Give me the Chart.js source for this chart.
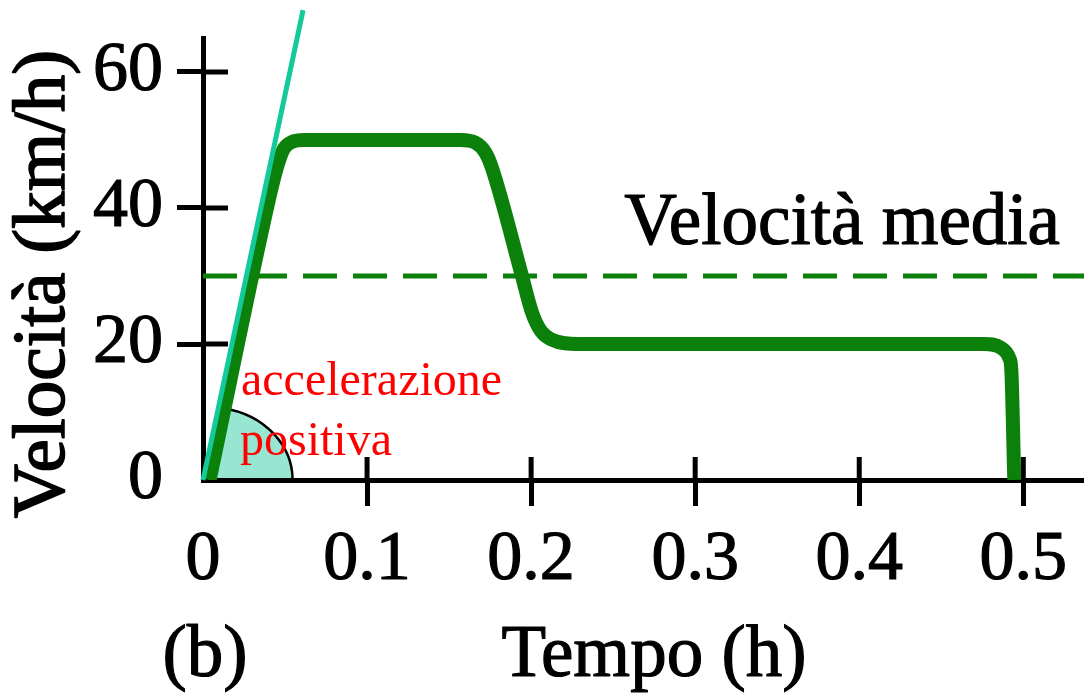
<!DOCTYPE html>
<html>
<head>
<meta charset="utf-8">
<script src="https://cdn.jsdelivr.net/npm/chart.js@4.4.1/dist/chart.umd.min.js"></script>
<style>
  html, body { margin: 0; padding: 0; background: #ffffff; }
  #wrap { position: relative; width: 1084px; height: 693px; }
</style>
</head>
<body>
<div id="wrap"><canvas id="speedChart"></canvas></div>
<script>
// Velocity profile of the trip: time (h) against speed (km/h)
var timeH    = [0.004, 0.039, 0.0445, 0.049, 0.054, 0.062, 0.157, 0.166, 0.172, 0.176, 0.194, 0.2006, 0.206, 0.212, 0.229, 0.476, 0.4866, 0.4915, 0.4927, 0.4945];
var speedKmh = [0,     40,    45.5,   48.6,  49.7,  50,    50,    49.6,  48.2,  46.0,  30.4,  24.6,   21.9,   20.7,  20,    20,    19.4,   17.9,   16.2,   0];

// Average speed over the trip (dashed line)
var avgTimeH  = [0, 0.537];
var avgSpeed  = [30, 30];

// Tangent at the start (initial acceleration)
var tangentTimeH = [0, 0.061];
var tangentSpeed = [0, 69.1];

// Tick labels
var xTickLabels = ['0', '0.1', '0.2', '0.3', '0.4', '0.5'];
var yTickLabels = [0, 20, 40, 60];

var X_MAX = 0.537;
var Y_MAX = 65;
var SERIF = '"Liberation Serif", "Times New Roman", serif';
var GREEN = '#0b800b';
var TEAL  = '#14c99b';

function toPoints(xs, ys) {
    return xs.map(function(x, i) { return { x: x, y: ys[i] }; });
}

// filled text with a thin outline so the serif glyphs read a bit heavier
function heavyText(ctx, text, x, y, weight) {
    ctx.lineWidth = weight;
    ctx.strokeStyle = ctx.fillStyle;
    ctx.fillText(text, x, y);
    ctx.strokeText(text, x, y);
}

// Sector marking the angle of the initial climb (radii in axis units)
var ARC_RX_H   = 0.0506;
var ARC_RY_KMH = 10.7;

var decorPlugin = {
    id: 'decor',
    beforeDraw: function(chart) {
        var ctx = chart.ctx;
        var xs = chart.scales.x, ys = chart.scales.y;
        var cx = xs.getPixelForValue(timeH[0]);
        var cy = ys.getPixelForValue(speedKmh[0]);
        var rx = xs.getPixelForValue(timeH[0] + ARC_RX_H) - cx;
        var ry = cy - ys.getPixelForValue(ARC_RY_KMH);
        var dx = xs.getPixelForValue(timeH[1]) - cx;
        var dy = ys.getPixelForValue(speedKmh[1]) - cy;
        var s = 1 / Math.sqrt(Math.pow(dx / rx, 2) + Math.pow(dy / ry, 2));
        var px = cx + s * dx, py = cy + s * dy;
        var start = Math.atan2((py - cy) / ry, (px - cx) / rx);
        ctx.save();
        ctx.beginPath();
        ctx.moveTo(cx, cy);
        ctx.lineTo(px, py);
        ctx.ellipse(cx, cy, rx, ry, 0, start, 0, false);
        ctx.closePath();
        ctx.fillStyle = '#97e6d1';
        ctx.fill();
        ctx.lineWidth = 2.5;
        ctx.strokeStyle = '#000';
        ctx.stroke();
        ctx.restore();
    },
    beforeDatasetsDraw: function(chart) {
        // inner half of the crossing tick marks
        var ctx = chart.ctx, area = chart.chartArea;
        ctx.save();
        ctx.strokeStyle = '#000';
        ctx.lineWidth = 5;
        ctx.beginPath();
        chart.scales.x.ticks.forEach(function(t) {
            if (t.value === 0) return;
            var x = chart.scales.x.getPixelForValue(t.value);
            ctx.moveTo(x, area.bottom);
            ctx.lineTo(x, area.bottom - 23);
        });
        chart.scales.y.ticks.forEach(function(t) {
            if (t.value === 0) return;
            var y = chart.scales.y.getPixelForValue(t.value);
            ctx.moveTo(area.left, y);
            ctx.lineTo(area.left + 25, y);
        });
        ctx.stroke();
        ctx.restore();
    },
    afterDraw: function(chart) {
        var ctx = chart.ctx;
        var ys = chart.scales.y;
        ctx.save();
        ctx.fillStyle = '#000';
        ctx.textBaseline = 'alphabetic';
        ctx.lineJoin = 'round';

        // axis titles
        ctx.font = '73px ' + SERIF;
        ctx.textAlign = 'center';
        heavyText(ctx, 'Tempo (h)', 654, 676, 1.2);
        heavyText(ctx, '(b)', 205, 676, 1.2);

        ctx.save();
        ctx.translate(64, 284);
        ctx.rotate(-Math.PI / 2);
        ctx.font = '75px ' + SERIF;
        heavyText(ctx, 'Velocità (km/h)', 0, 0, 1.6);
        ctx.restore();

        // label above the average line
        ctx.font = '73px ' + SERIF;
        ctx.textAlign = 'right';
        heavyText(ctx, 'Velocità media', 1060, ys.getPixelForValue(avgSpeed[0]) - 32, 1.2);

        // note on the starting slope
        ctx.fillStyle = '#ff0000';
        ctx.font = '48px ' + SERIF;
        ctx.textAlign = 'left';
        ctx.fillText('accelerazione', 241, 395);
        ctx.fillText('positiva', 240, 455);
        ctx.restore();
    }
};

new Chart(document.getElementById('speedChart'), {
    type: 'line',
    data: {
        datasets: [{
            label: 'Tangente',
            data: toPoints(tangentTimeH, tangentSpeed),
            borderColor: TEAL,
            borderWidth: 5,
            pointRadius: 0,
            clip: false,
            order: 0,
        }, {
            label: 'Velocità',
            data: toPoints(timeH, speedKmh),
            borderColor: GREEN,
            borderWidth: 14,
            pointRadius: 0,
            cubicInterpolationMode: 'monotone',
            borderJoinStyle: 'round',
            order: 1,
        }, {
            label: 'Velocità media',
            data: toPoints(avgTimeH, avgSpeed),
            borderColor: GREEN,
            borderWidth: 5,
            borderDash: [34, 16],
            pointRadius: 0,
            order: 2,
        }],
    },
    options: {
        responsive: true,
        maintainAspectRatio: false,
        animation: false,
        layout: { padding: { top: 38, right: 0, left: 0, bottom: 0 } },
        plugins: {
            legend: { display: false },
            tooltip: { enabled: false },
        },
        scales: {
            x: {
                type: 'linear',
                min: 0,
                max: X_MAX,
                afterFit: function(scale) {
                    scale.height = 213;
                    scale.paddingLeft = 0;
                    scale.paddingRight = 0;
                },
                border: { color: '#000', width: 5 },
                grid: {
                    drawOnChartArea: false,
                    tickLength: 26,
                    tickWidth: 5,
                    tickColor: function(c) { return c.tick && c.tick.value === 0 ? 'rgba(0,0,0,0)' : '#000'; },
                },
                ticks: {
                    stepSize: 0.1,
                    includeBounds: false,
                    autoSkip: false,
                    maxRotation: 0,
                    padding: 13,
                    color: '#000',
                    textStrokeColor: '#000',
                    textStrokeWidth: 1.2,
                    font: { family: SERIF, size: 70 },
                    callback: function(v) { return xTickLabels[Math.round(v * 10)]; },
                },
            },
            y: {
                min: 0,
                max: Y_MAX,
                afterFit: function(scale) {
                    scale.width = 203;
                    scale.paddingTop = 0;
                    scale.paddingBottom = 0;
                },
                border: { color: '#000', width: 5 },
                grid: {
                    drawOnChartArea: false,
                    tickLength: 26,
                    tickWidth: 5,
                    tickColor: function(c) { return c.tick && c.tick.value === 0 ? 'rgba(0,0,0,0)' : '#000'; },
                },
                ticks: {
                    stepSize: 10,
                    includeBounds: false,
                    padding: 14,
                    color: '#000',
                    textStrokeColor: '#000',
                    textStrokeWidth: 1.2,
                    font: { family: SERIF, size: 70 },
                    callback: function(v) { return yTickLabels.indexOf(v) >= 0 ? String(v) : ''; },
                },
            },
        },
    },
    plugins: [decorPlugin],
});
</script>
</body>
</html>
